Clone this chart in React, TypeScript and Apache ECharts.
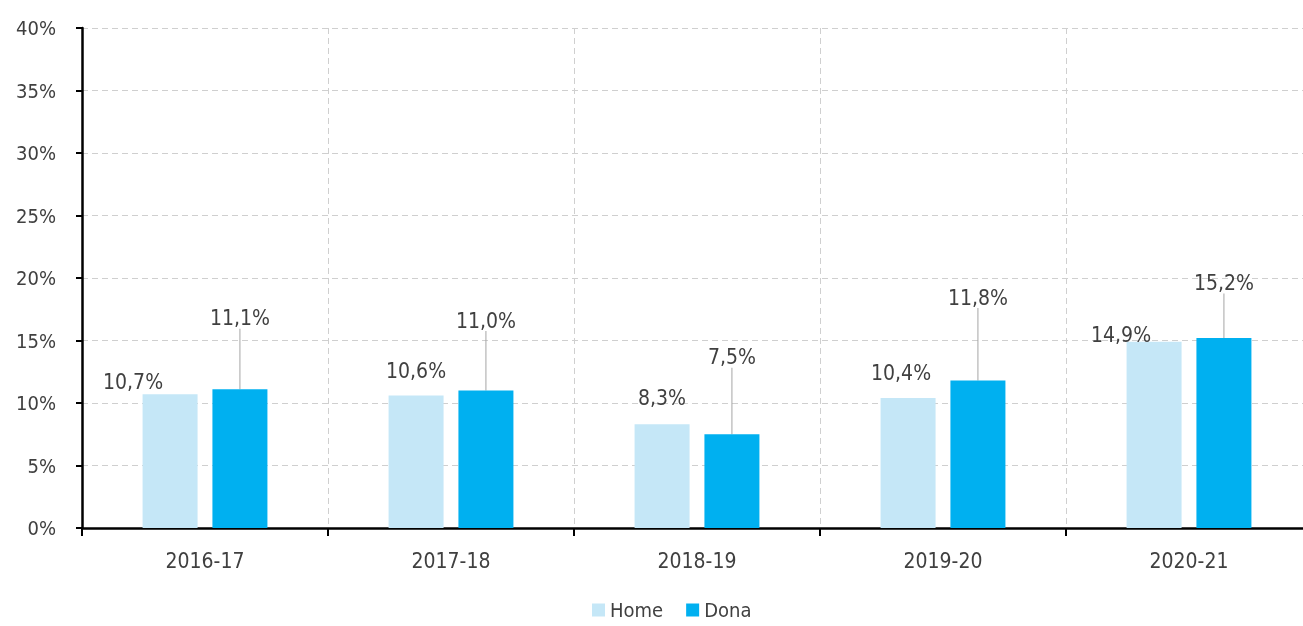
import React, { useEffect, useRef } from "react";
import * as echarts from "echarts";

const categories = ["2016-17", "2017-18", "2018-19", "2019-20", "2020-21"];
const homeValues = [10.7, 10.6, 8.3, 10.4, 14.9];
const donaValues = [11.1, 11.0, 7.5, 11.8, 15.2];
const seriesNames = ["Home", "Dona"];

// label placement (pixels relative to the bar top centre)
const homeLabelDx = [-37, 0, 0, -7, -33];
const homeLabelRise = [12, 25, 26, 25, 7];
const donaLabelDx = [0, 0, 0, 0, 0];
const donaLabelRise = [71, 70, 77, 83, 55];

const FONT = "'DejaVu Sans Condensed', 'DejaVu Sans', sans-serif";
const TEXT = "#404040";

const fmt = (v: number) => v.toFixed(1).replace(".", ",") + "%";

export default function App() {
  const ref = useRef<HTMLDivElement>(null);
  useEffect(() => {
    if (!ref.current) return;
    const chart = echarts.init(ref.current, null, { renderer: "svg" });
    const mkLayout = (dx: number[], rise: number[]) => (p: any) => ({
      x: p.rect.x + p.rect.width / 2 + dx[p.dataIndex],
      y: p.rect.y - rise[p.dataIndex],
      align: "center",
      verticalAlign: "middle",
    });
    chart.setOption({
      animation: false,
      textStyle: { fontFamily: FONT },
      grid: { left: 82, top: 28, width: 1230, height: 500 },
      legend: {
        data: seriesNames,
        left: 592,
        top: 600,
        padding: 0,
        itemWidth: 13,
        itemHeight: 13,
        itemGap: 23,
        icon: "rect",
        textStyle: { fontFamily: FONT, fontSize: 20, color: TEXT, lineHeight: 20 },
      },
      xAxis: {
        type: "category",
        data: categories,
        boundaryGap: true,
        axisLine: { lineStyle: { color: "#000", width: 2.5 } },
        axisTick: { show: true, length: 8, lineStyle: { color: "#000", width: 2 } },
        axisLabel: { fontFamily: FONT, fontSize: 21, color: TEXT, margin: 22 },
        splitLine: { show: true, lineStyle: { color: "#cfcfcf", type: [6, 4], width: 1 } },
      },
      yAxis: {
        type: "value",
        min: 0,
        max: 40,
        interval: 5,
        axisLine: { show: true, lineStyle: { color: "#000", width: 2.5 } },
        axisTick: { show: true, length: 6, lineStyle: { color: "#000", width: 2 } },
        axisLabel: {
          fontFamily: FONT,
          fontSize: 20,
          color: TEXT,
          margin: 26,
          formatter: (v: number) => v + "%",
        },
        splitLine: { show: true, lineStyle: { color: "#cfcfcf", type: [6, 4], width: 1 } },
      },
      series: [
        {
          name: seriesNames[0],
          type: "bar",
          data: homeValues,
          barWidth: 55,
          barGap: "27%",
          itemStyle: { color: "#c5e7f7" },
          label: {
            show: true,
            position: "top",
            fontFamily: FONT,
            fontSize: 21,
            color: TEXT,
            formatter: (p: any) => fmt(p.value),
          },
          labelLayout: mkLayout(homeLabelDx, homeLabelRise),
        },
        {
          name: seriesNames[1],
          type: "bar",
          data: donaValues,
          barWidth: 55,
          itemStyle: { color: "#00b0f0" },
          label: {
            show: true,
            position: "top",
            fontFamily: FONT,
            fontSize: 21,
            color: TEXT,
            formatter: (p: any) => fmt(p.value),
          },
          labelLine: { show: true, lineStyle: { color: "#a6a6a6", width: 1 } },
          labelLayout: mkLayout(donaLabelDx, donaLabelRise),
        },
      ],
    });
    return () => chart.dispose();
  }, []);
  return (
    <div
      style={{
        position: "fixed",
        left: 0,
        top: 0,
        width: 1303,
        height: 626,
        overflow: "hidden",
      }}
    >
      <div ref={ref} style={{ width: 1320, height: 626 }} />
    </div>
  );
}
